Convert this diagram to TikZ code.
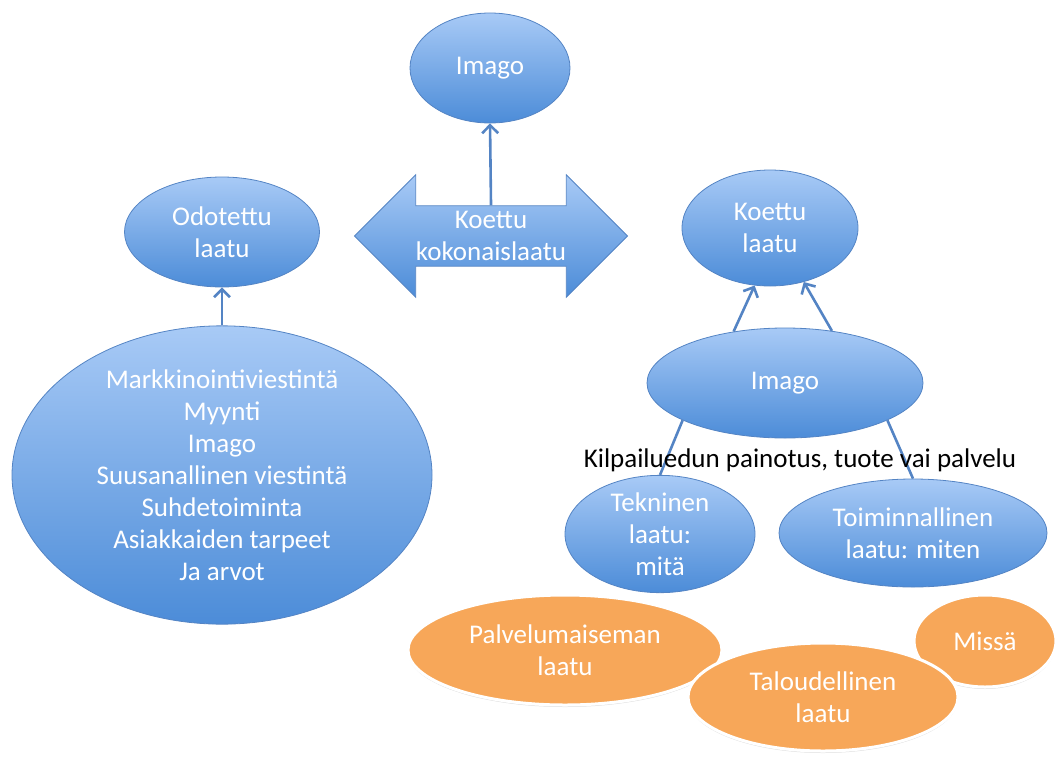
\documentclass[tikz,border=0pt]{standalone}
\usepackage{fontspec}
\setmainfont{Carlito}
\usetikzlibrary{shapes.geometric,shapes.arrows,arrows.meta,shadows}
\definecolor{bluetop}{RGB}{168,202,246}
\definecolor{bluebot}{RGB}{76,140,216}
\definecolor{blueline}{RGB}{84,132,196}
\definecolor{orangefill}{RGB}{247,167,89}
\tikzset{>={Straight Barb[length=8pt,width=16pt]}, font=\fontsize{27}{32}\selectfont}
\tikzstyle{bubble} = [ellipse, draw=blueline, line width=0.8pt, top color=bluetop, bottom color=bluebot, text=white, align=center, inner sep=0pt]
\tikzstyle{orangebubble} = [ellipse, draw=white, line width=3pt, fill=orangefill, text=white, align=center, inner sep=0pt, drop shadow={shadow xshift=0pt, shadow yshift=-2pt, opacity=0.25}]
\tikzstyle{dblarrow} = [double arrow, draw=blueline, line width=0.8pt, top color=bluetop, bottom color=bluebot, text=white, align=center, double arrow head extend=31pt, inner xsep=0pt, inner ysep=5pt]
\tikzstyle{link} = [draw=blueline, line width=2.6pt]

\begin{document}
\begin{tikzpicture}[x=1pt, y=-1pt]
	\useasboundingbox (0,0) rectangle (1056,760);

	% left side
	\node [bubble, minimum width=420pt, minimum height=286pt] (sources) at (222,475)
		{Markkinointiviestintä\\Myynti\\Imago\\Suusanallinen viestintä\\Suhdetoiminta\\Asiakkaiden tarpeet\\Ja arvot};
	\node [bubble, minimum width=195pt, minimum height=110pt] (expected) at (222,232) {Odotettu\\laatu};

	% middle
	\node [bubble, minimum width=160pt, minimum height=110pt] (imagotop) at (490,68) {Imago};
	\node [dblarrow, minimum height=273pt] (total) at (491,236) {Koettu\\kokonaislaatu};

	% right side
	\node [bubble, minimum width=176pt, minimum height=116pt] (experienced) at (770,228) {Koettu\\laatu};
	\node [bubble, minimum width=276pt, minimum height=110pt] (imagoright) at (785,383) {Imago};
	\node [bubble, minimum width=190pt, minimum height=108pt] (technical) at (660,534) {Tekninen\\laatu:\\mitä};
	\node [bubble, minimum width=268pt, minimum height=108pt] (functional) at (913,533) {Toiminnallinen\\laatu: miten};

	% orange ones
	\node [orangebubble, minimum width=314pt, minimum height=110pt] (servicescape) at (565,650) {Palvelumaiseman\\laatu};
	\node [orangebubble, minimum width=142pt, minimum height=92pt] (where) at (985,641) {Missä};
	\node [orangebubble, minimum width=270pt, minimum height=108pt] (economic) at (823,697) {Taloudellinen\\laatu};

	\draw [link, ->] (sources.north) -- (expected.south);
	\draw [link, ->] (total.north) -- (imagotop.south);
	\draw [link, ->] (imagoright.135) -- (experienced.255);
	\draw [link, ->] (imagoright.48) -- (experienced.302);
	\draw [link] (imagoright.200) -- (technical.north);
	\draw [link] (imagoright.340) -- (functional.north);

	\node [text=black] (focus) at (800,460) {Kilpailuedun painotus, tuote vai palvelu};
\end{tikzpicture}
\end{document}
